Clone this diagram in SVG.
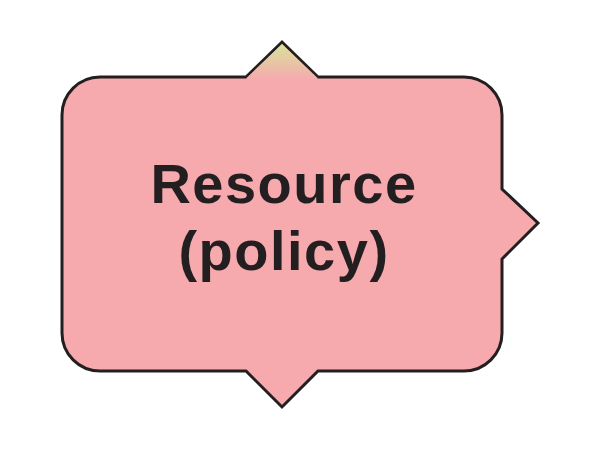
<svg xmlns="http://www.w3.org/2000/svg" width="600" height="450" viewBox="0 0 600 450">
  <defs>
    <linearGradient id="topGrad" x1="0" y1="42" x2="0" y2="80" gradientUnits="userSpaceOnUse">
      <stop offset="0" stop-color="#D6E59A"/>
      <stop offset="1" stop-color="#F6AAAE"/>
    </linearGradient>
    <style>
      .shape { fill: #F6AAAE; stroke: #231F20; stroke-width: 3; stroke-linejoin: miter; }
      .label { font-family: "Liberation Sans", Arial, sans-serif; font-weight: bold; font-size: 56px; fill: #231F20; text-anchor: middle; letter-spacing: 1.5px; }
    </style>
  </defs>
  <g id="resource-node">
    <path d="M 62 115 A 38 38 0 0 1 100 77 L 246 77 L 282 42 L 318 77 L 464 77 A 38 38 0 0 1 502 115 L 502 189 L 538 223 L 502 259 L 502 333 A 38 38 0 0 1 464 371 L 318 371 L 282 407 L 246 371 L 100 371 A 38 38 0 0 1 62 333 Z" class="shape"/>
    <path d="M 246 78.5 L 282 44 L 318 78.5 Z" fill="url(#topGrad)"/>
    <text class="label" x="284" y="203">Resource</text>
    <text class="label" x="284" y="270">(policy)</text>
  </g>
  <g id="connectors"/>
</svg>
